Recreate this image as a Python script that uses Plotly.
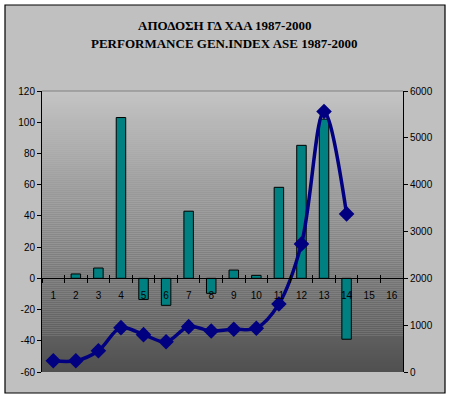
import plotly.graph_objects as go

categories = [str(i) for i in range(1, 17)]
returns_pct = [None, 2.8, 6.6, 103, -13.5, -17.3, 43, -9.6, 5.3, 1.9, 58.3, 85.2, 102, -39, None, None]
index_values = [240, 240, 455, 947, 797, 647, 968, 876, 912, 934, 1453, 2735, 5562, 3376, None, None]
left_ticks = list(range(-60, 121, 20))
left_tick_labels = [str(v) for v in left_ticks]
right_ticks = list(range(0, 6001, 1000))
right_tick_labels = [str(v) for v in right_ticks]

W, H = 451, 399
L, R, T, B = 42, 48, 91, 27
pw, ph = W - L - R, H - T - B

def px_x(x):
    return (x - L) / pw

def px_y(y):
    return (H - B - y) / ph

fig = go.Figure()

fig.add_trace(go.Bar(
    x=categories, y=returns_pct, width=0.42,
    marker=dict(color="#008080", line=dict(color="black", width=1)),
    yaxis="y", xaxis="x", showlegend=False,
))
fig.add_trace(go.Scatter(
    x=categories, y=index_values, mode="lines+markers",
    line=dict(color="#000080", width=3.5, shape="spline", smoothing=1.0),
    marker=dict(symbol="diamond", size=12, color="#000080"),
    yaxis="y2", xaxis="x", showlegend=False, connectgaps=False,
))
# helper trace for the inner half of the crossing tick marks
fig.add_trace(go.Scatter(
    x=categories, y=[None] * len(categories), xaxis="x3", yaxis="y",
    mode="markers", showlegend=False, hoverinfo="skip",
))

shapes = []
# chart area with border
shapes.append(dict(type="rect", xref="paper", yref="paper",
                   x0=px_x(5), x1=px_x(445), y0=px_y(393), y1=px_y(5),
                   fillcolor="#c0c0c0", line=dict(color="black", width=1.2), layer="below"))
# gradient plot area
N = 140
top = (196, 196, 196)
bot = (80, 80, 80)
for i in range(N):
    f = i / (N - 1)
    c = tuple(int(round(top[k] + (bot[k] - top[k]) * f)) for k in range(3))
    shapes.append(dict(type="rect", xref="paper", yref="paper",
                       x0=0, x1=1, y0=1 - (i + 1) / N, y1=1 - i / N,
                       fillcolor="rgb(%d,%d,%d)" % c, line=dict(width=0), layer="below"))
# top border line of the plot area
shapes.append(dict(type="line", xref="paper", yref="paper", x0=0, x1=1, y0=1, y1=1,
                   line=dict(color="#808080", width=1.2), layer="below"))

tickfont = dict(family="Liberation Sans, Arial", size=10, color="black")
zero_pos = 60 / 180

fig.update_layout(
    width=W, height=H,
    margin=dict(l=L, r=R, t=T, b=B, autoexpand=False),
    paper_bgcolor="white", plot_bgcolor="rgba(0,0,0,0)",
    shapes=shapes, bargap=0.5,
    xaxis=dict(type="category", categoryarray=categories, range=[-0.5, 15.5],
               anchor="free", position=zero_pos, showline=True, linecolor="black", linewidth=1,
               ticks="outside", ticklen=4, tickcolor="black", tickson="boundaries",
               tickfont=tickfont, ticklabelstandoff=8, showgrid=False, zeroline=False,
               automargin=False),
    xaxis3=dict(type="category", categoryarray=categories, range=[-0.5, 15.5],
                overlaying="x", anchor="free", position=zero_pos, showline=False,
                ticks="inside", ticklen=3, tickcolor="black", tickson="boundaries",
                showticklabels=False, showgrid=False, zeroline=False, automargin=False),
    yaxis=dict(range=[-60, 120], tickvals=left_ticks, ticktext=left_tick_labels,
               showline=True, linecolor="black",
               linewidth=1, ticks="outside", ticklen=4, tickcolor="black",
               tickfont=tickfont, showgrid=False, zeroline=True, zerolinecolor="black",
               zerolinewidth=1, automargin=False),
    yaxis2=dict(range=[0, 6000], tickvals=right_ticks, ticktext=right_tick_labels,
                overlaying="y", side="right",
                showline=True, linecolor="black", linewidth=1, ticks="outside", ticklen=4,
                tickcolor="black", tickfont=tickfont, showgrid=False, zeroline=False,
                automargin=False),
    annotations=[
        dict(text="<b>ΑΠΟΔΟΣΗ ΓΔ ΧΑΑ 1987-2000</b>", xref="paper", yref="paper",
             x=px_x(224.5), y=px_y(26), xanchor="center", yanchor="middle", showarrow=False,
             font=dict(family="Liberation Serif, Times New Roman", size=13, color="black")),
        dict(text="<b>PERFORMANCE GEN.INDEX ASE 1987-2000</b>", xref="paper", yref="paper",
             x=px_x(224.5), y=px_y(44), xanchor="center", yanchor="middle", showarrow=False,
             font=dict(family="Liberation Serif, Times New Roman", size=13, color="black")),
    ],
)

fig.write_html("out.html", config={"displayModeBar": False},
               post_script="document.body.style.margin='0';document.body.style.overflow='hidden';")
